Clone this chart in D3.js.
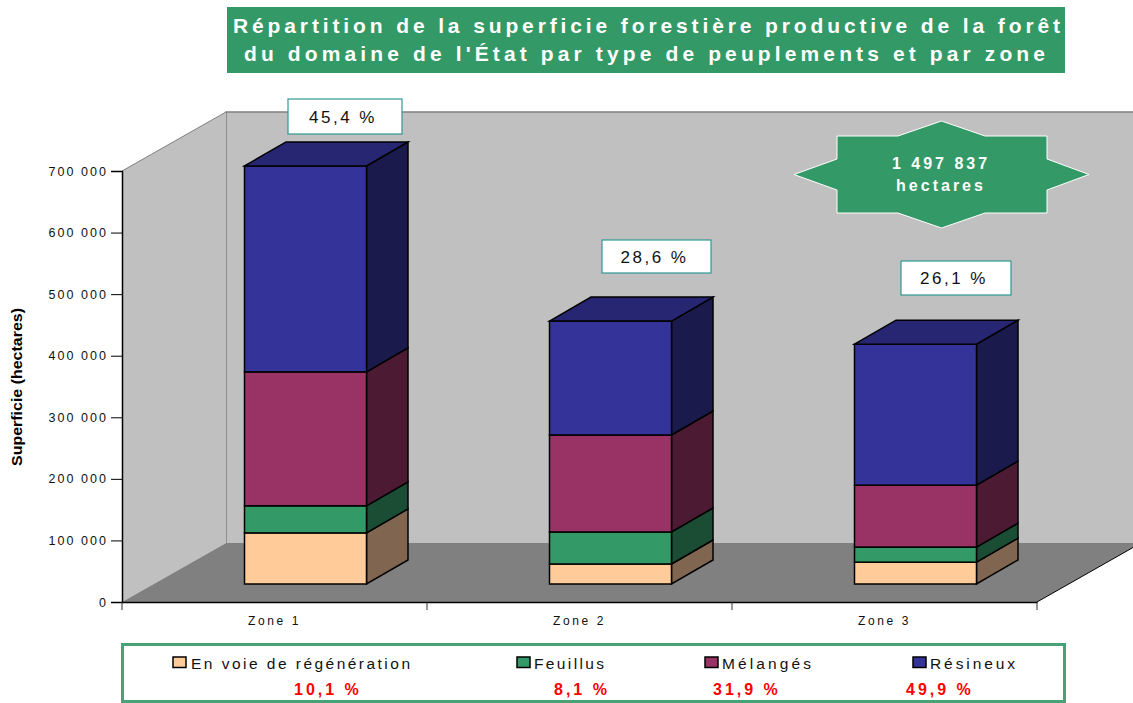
<!DOCTYPE html>
<html><head><meta charset="utf-8">
<script src="https://cdn.jsdelivr.net/npm/d3@7/dist/d3.min.js"></script>
<style>
html,body{margin:0;padding:0;background:#fff}
svg{display:block}
text{font-family:"Liberation Sans",Arial,sans-serif}
</style></head><body>
<svg id="c" width="1133" height="703"></svg>
<script>
const categories = ["Zone 1","Zone 2","Zone 3"];
const seriesNames = ["En voie de régénération","Feuillus","Mélangés","Résineux"];
const regeneration = [83000,32500,35500];
const feuillus = [44000,52000,24500];
const melanges = [217500,157500,100500];
const resineux = [334500,185000,229000];
const seriesColors = ["#FFCC99","#339966","#993366","#333399"];
const seriesSides = ["#806650","#1A4D33","#4D1A33","#1A1A4D"];
const topColor = "#262673";
const seriesShares = ["10,1 %","8,1 %","31,9 %","49,9 %"];
const zoneShares = ["45,4 %","28,6 %","26,1 %"];
const yTicks = [0,100000,200000,300000,400000,500000,600000,700000];
const titleLines = ["Répartition de la superficie forestière productive de la forêt","du domaine de l'État par type de peuplements et par zone"];
const totalLines = ["1 497 837","hectares"];
const yTitle = "Superficie (hectares)";

const green="#339966";
const svg=d3.select("#c");
const y=d3.scaleLinear().domain([0,700000]).range([602,171]);
const x=d3.scaleBand().domain(categories).range([122,1037]);
const poly=p=>p.map(a=>a.join(",")).join(" ");

// 3D box walls
const dx=104, dy=-59;
const left=x.range()[0], right=x.range()[1], y0=y(0), yT=y(700000);
svg.append("polygon").attr("points",poly([[left+dx,yT+dy],[1133,yT+dy],[1133,y0+dy],[left+dx,y0+dy]])).attr("fill","#C0C0C0");
svg.append("polyline").attr("points",poly([[1133,yT+dy],[left+dx,yT+dy],[left+dx,y0+dy]])).attr("fill","none").attr("stroke","#808080").attr("stroke-width",1.5);
svg.append("polygon").attr("points",poly([[left,y0],[left,yT],[left+dx,yT+dy],[left+dx,y0+dy]])).attr("fill","#C0C0C0");
svg.append("line").attr("x1",left).attr("y1",yT).attr("x2",left+dx).attr("y2",yT+dy).attr("stroke","#808080").attr("stroke-width",1);
svg.append("polygon").attr("points",poly([[left,y0],[right,y0],[1133,y0+dy+4.5],[1133,y0+dy],[left+dx,y0+dy]])).attr("fill","#808080");
svg.append("line").attr("x1",right).attr("y1",y0).attr("x2",1133).attr("y2",y0+dy+4.5).attr("stroke","#000").attr("stroke-width",1);

// stacked bars
const rows=categories.map((c,i)=>({cat:c,r:regeneration[i],f:feuillus[i],m:melanges[i],s:resineux[i]}));
const keys=["r","f","m","s"];
const stacked=d3.stack().keys(keys)(rows);
const barW=x.bandwidth()*0.4, barShift=(x.bandwidth()-barW)/2+31, bdx=41.5, bdy=-24, lift=-18;
categories.forEach((c,i)=>{
  const bx=x(c)+barShift;
  const g=svg.append("g").attr("stroke","#000").attr("stroke-width",1.5).attr("stroke-linejoin","miter");
  stacked.forEach((layer,k)=>{
    const yb=y(layer[i][0])+lift, yt=y(layer[i][1])+lift;
    g.append("polygon").attr("points",poly([[bx+barW,yb],[bx+barW,yt],[bx+barW+bdx,yt+bdy],[bx+barW+bdx,yb+bdy]])).attr("fill",seriesSides[k]);
    g.append("rect").attr("x",bx).attr("y",yt).attr("width",barW).attr("height",yb-yt).attr("fill",seriesColors[k]);
    if(k===stacked.length-1)
      g.append("polygon").attr("points",poly([[bx,yt],[bx+bdx,yt+bdy],[bx+barW+bdx,yt+bdy],[bx+barW,yt]])).attr("fill",topColor);
  });
});

// axes
const fmt=d3.formatLocale({decimal:",",thousands:" ",grouping:[3],currency:["",""]}).format(",d");
const ya=svg.append("g").attr("transform",`translate(${left},0)`).call(d3.axisLeft(y).tickValues(yTicks).tickFormat(fmt).tickSize(11).tickPadding(3));
const xa=svg.append("g").attr("transform",`translate(0,${y0})`).call(d3.axisBottom(x).tickSize(0).tickPadding(14));
xa.selectAll(".tick line").remove();
[...categories.map(c=>x(c)),right].forEach(v=>xa.append("line").attr("x1",v).attr("x2",v).attr("y1",0).attr("y2",8).attr("stroke","#333"));
[ya,xa].forEach(a=>{a.selectAll(".domain").attr("stroke","#000").attr("stroke-width",1.5);
  a.selectAll("text").style("font-family",'"Liberation Sans",Arial,sans-serif').style("font-size","12.5px").style("letter-spacing","2.05px").attr("fill","#111");});
xa.selectAll("text").style("font-size","12px").style("letter-spacing","2.6px");

svg.append("text").attr("transform","translate(22,387) rotate(-90)").attr("text-anchor","middle")
  .attr("font-size",14).attr("font-weight","bold").attr("textLength",158).attr("lengthAdjust","spacingAndGlyphs").text(yTitle);

// title
svg.append("rect").attr("x",227).attr("y",7).attr("width",838).attr("height",66).attr("fill",green);
const titleExt=[[233,827,33],[244,801,61]];
titleLines.forEach((t,i)=>svg.append("text").attr("x",titleExt[i][0]).attr("y",titleExt[i][2]).attr("font-size",21).attr("font-weight","bold").attr("fill","#fff").attr("textLength",titleExt[i][1]).attr("lengthAdjust","spacing").text(t));

// zone share boxes
const boxes=[[288,99,114,35],[602,240,109,33],[901,261,110,34]];
zoneShares.forEach((t,i)=>{
  const b=boxes[i];
  svg.append("rect").attr("x",b[0]).attr("y",b[1]).attr("width",b[2]).attr("height",b[3]).attr("fill","#fff").attr("stroke","#2E9A94").attr("stroke-width",1.2);
  svg.append("text").attr("x",b[0]+b[2]/2-2).attr("y",b[1]+b[3]/2+6).attr("text-anchor","middle").attr("font-size",17).attr("letter-spacing","2.5px").attr("fill","#111").text(t);
});

// total star
const star=[[941.5,121],[985,136],[1047,136],[1047,159],[1089,174.5],[1047,190],[1047,213],[985,213],[941.5,228],[898,213],[837,213],[837,190],[794,174.5],[837,159],[837,136],[898,136]];
svg.append("polygon").attr("points",poly(star)).attr("fill",green).attr("stroke","#fff").attr("stroke-width",1);
totalLines.forEach((t,i)=>svg.append("text").attr("x",941).attr("y",169+i*22).attr("text-anchor","middle").attr("font-size",16).attr("font-weight","bold").attr("letter-spacing","3px").attr("fill","#fff").text(t));

// legend
svg.append("rect").attr("x",122.5).attr("y",644.5).attr("width",942).attr("height",57).attr("fill","#fff").attr("stroke",green).attr("stroke-width",3).attr("stroke-opacity",0.9);
const swX=[173,517,705,913], txtX=[191,534,722,930], txtW=[219,70,89,85], shareX=[294,554,713,906];
seriesNames.forEach((n,i)=>{
  svg.append("rect").attr("x",swX[i]).attr("y",657).attr("width",13).attr("height",10.5).attr("fill",seriesColors[i]).attr("stroke","#000").attr("stroke-width",1.5);
  svg.append("text").attr("x",txtX[i]).attr("y",669).attr("font-size",15.5).attr("textLength",txtW[i]).attr("lengthAdjust","spacing").attr("fill","#111").text(n);
  svg.append("text").attr("x",shareX[i]).attr("y",695).attr("font-size",16).attr("font-weight","bold").attr("letter-spacing","3px").attr("fill","#FF0000").text(seriesShares[i]);
});
</script>
</body></html>
